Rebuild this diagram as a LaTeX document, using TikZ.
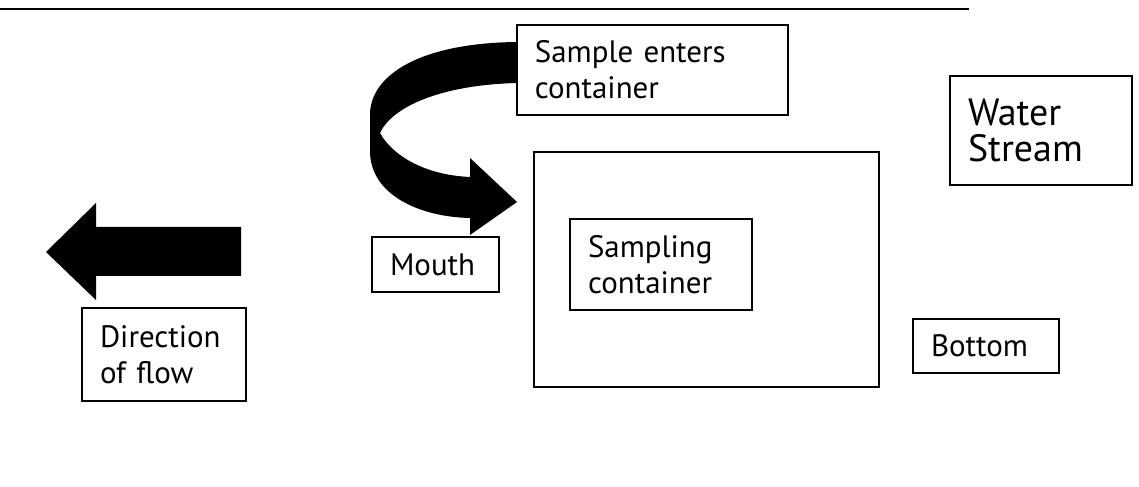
\documentclass[tikz,border=0pt]{standalone}
\usepackage{fontspec}
\setmainfont{PT Sans}
\begin{document}
\begin{tikzpicture}[
    box/.style={draw, line width=1.1pt, fill=white, align=left,
        inner xsep=0.45cm, inner ysep=0pt, font=\fontsize{22}{25.6}\selectfont}]
    \useasboundingbox (0,0) rectangle (28.475,12.175);

    % 1. Top line
    \draw[line width=1.4pt] (0,11.95) -- (24.225,11.95);

    % 2. Flow arrow
    \fill (1.15,5.875) -- (2.4,7.1) -- (2.4,6.5) -- (6.025,6.5) -- (6.025,5.275)
        -- (2.4,5.275) -- (2.4,4.675) -- cycle;

    % 3. Curved arrow into the container
    \fill (12.925,11.125) .. controls (10.5,11.1) and (9.25,10.3) .. (9.25,9.3)
        -- (9.25,8.4) .. controls (9.25,7.3) and (10.5,6.75) .. (11.75,6.725)
        -- (11.75,6.3) -- (12.925,7.125) -- (11.75,8.225) -- (11.75,7.75)
        .. controls (10.6,7.8) and (9.8,8.3) .. (9.5,8.85)
        .. controls (9.8,9.5) and (11,10.05) .. (12.925,10.1) -- cycle;

    % 4. Boxes
    \node[box, text width=5.875cm, minimum height=2.25cm] (enters) at (16.31,10.425)
        {Sample enters\\container};
    \node[box, text width=3.65cm, minimum height=2.725cm,
        font=\fontsize{27}{25}\selectfont] (water) at (26.025,8.9125) {Water\\Stream};
    \node[box, minimum width=8.625cm, minimum height=5.875cm] (cont) at (17.6625,5.4375) {};
    \node[box, text width=3.65cm, minimum height=2.275cm] (sampling) at (16.525,5.5625)
        {Sampling\\container};
    \node[box, text width=2.275cm, minimum height=1.375cm] (mouth) at (10.8875,5.5625) {Mouth};
    \node[box, text width=2.75cm, minimum height=1.35cm] (bottom) at (24.65,3.525) {Bottom};
    \node[box, text width=3.2cm, minimum height=2.325cm] (flow) at (4.1,3.3125)
        {Direction\\of flow};
\end{tikzpicture}
\end{document}
